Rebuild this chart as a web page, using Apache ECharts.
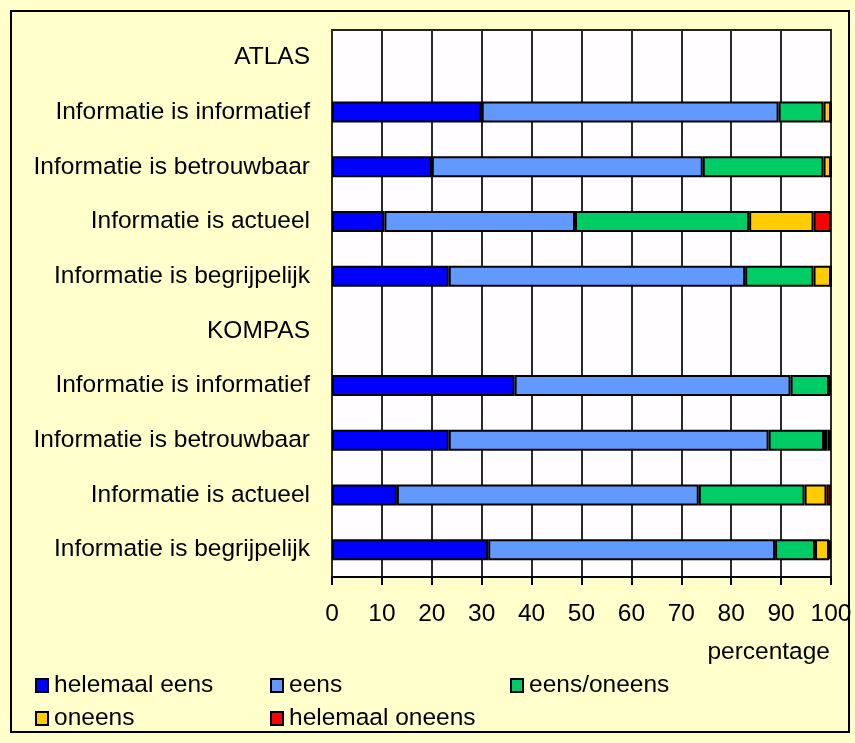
<!DOCTYPE html>
<html>
<head>
<meta charset="utf-8">
<title>ATLAS / KOMPAS</title>
<script src="https://cdn.jsdelivr.net/npm/echarts@6/dist/echarts.min.js"></script>
<style>
  html, body { margin: 0; padding: 0; background: #ffffcc; }
  #chart { width: 855px; height: 743px; }
</style>
</head>
<body>
<div id="chart"></div>
<script>
// categories, top to bottom
const categories = [
  'ATLAS',
  'Informatie is informatief',
  'Informatie is betrouwbaar',
  'Informatie is actueel',
  'Informatie is begrijpelijk',
  'KOMPAS',
  'Informatie is informatief',
  'Informatie is betrouwbaar',
  'Informatie is actueel',
  'Informatie is begrijpelijk'
]
// percentages ('-' = header row, no bar)
const helemaalEens   = ['-', 30,   20,   10.5, 23.4, '-', 36.6, 23.4, 13,   31.3]
const eens           = ['-', 59.5, 54.3, 38.2, 59.4, '-', 55.3, 64.1, 60.5, 57.5]
const eensOneens     = ['-', 9,    24.2, 34.9, 13.7, '-', 7.7,  11.1, 21.2, 8]
const oneens         = ['-', 1.5,  1.5,  12.9, 3.5,  '-', 0,    0.7,  4.4,  2.8]
const helemaalOneens = ['-', 0,    0,    3.5,  0,    '-', 0.4,  0.7,  0.9,  0.4]
const xTicks = [0, 10, 20, 30, 40, 50, 60, 70, 80, 90, 100]

const seriesNames = ['helemaal eens', 'eens', 'eens/oneens', 'oneens', 'helemaal oneens']
const seriesData = [helemaalEens, eens, eensOneens, oneens, helemaalOneens]
const colors = ['#0000ff', '#6199ff', '#00cc66', '#ffcc00', '#ff0000']

const font = 'Liberation Sans, Arial, sans-serif'
const fs = 24.5

const chart = echarts.init(document.getElementById('chart'))

// one legend per item so every entry sits in its own column
const legendPos = [
  { left: 35, top: 673 },
  { left: 270, top: 673 },
  { left: 510, top: 673 },
  { left: 35, top: 706 },
  { left: 270, top: 706 }
]

const option = {
  backgroundColor: '#ffffcc',
  animation: false,
  graphic: [{
    type: 'rect',
    shape: { x: 11, y: 11, width: 838, height: 721 },
    style: { fill: 'none', stroke: '#000', lineWidth: 2 },
    silent: true
  }],
  legend: seriesNames.map((n, i) => ({
    data: [n],
    left: legendPos[i].left,
    top: legendPos[i].top,
    padding: 0,
    icon: 'rect',
    itemWidth: 12,
    itemHeight: 13,
    selectedMode: false,
    textStyle: { fontFamily: font, fontSize: fs, color: '#000', padding: [0, 0, 0, 1] }
  })),
  grid: {
    left: 332,
    right: 24,
    top: 30,
    bottom: 166,
    show: true,
    backgroundColor: '#fffdff',
    borderColor: '#222',
    borderWidth: 2
  },
  xAxis: {
    type: 'value',
    min: xTicks[0],
    max: xTicks[xTicks.length - 1],
    interval: 10,
    name: 'percentage',
    nameLocation: 'end',
    nameGap: -1,
    nameTextStyle: {
      fontFamily: font, fontSize: fs, color: '#000',
      align: 'right', verticalAlign: 'top', padding: [63, 0, 0, 0]
    },
    axisLine: { show: true, lineStyle: { color: '#000', width: 2 } },
    axisTick: { show: true, length: 8, lineStyle: { color: '#000', width: 2 } },
    axisLabel: { fontFamily: font, fontSize: fs, color: '#000', margin: 25 },
    splitLine: { show: true, lineStyle: { color: '#2a2a2a', width: 2 } }
  },
  yAxis: {
    type: 'category',
    inverse: true,
    data: categories,
    axisLine: { show: false },
    axisTick: { show: false },
    axisLabel: { fontFamily: font, fontSize: fs, color: '#000', margin: 22 },
    splitLine: { show: false }
  },
  series: seriesNames.map((n, i) => ({
    name: n,
    type: 'bar',
    stack: 'total',
    barWidth: 21,
    color: colors[i],
    itemStyle: { color: colors[i], borderColor: '#000', borderWidth: 2 },
    data: seriesData[i]
  }))
}

chart.setOption(option)
</script>
</body>
</html>
